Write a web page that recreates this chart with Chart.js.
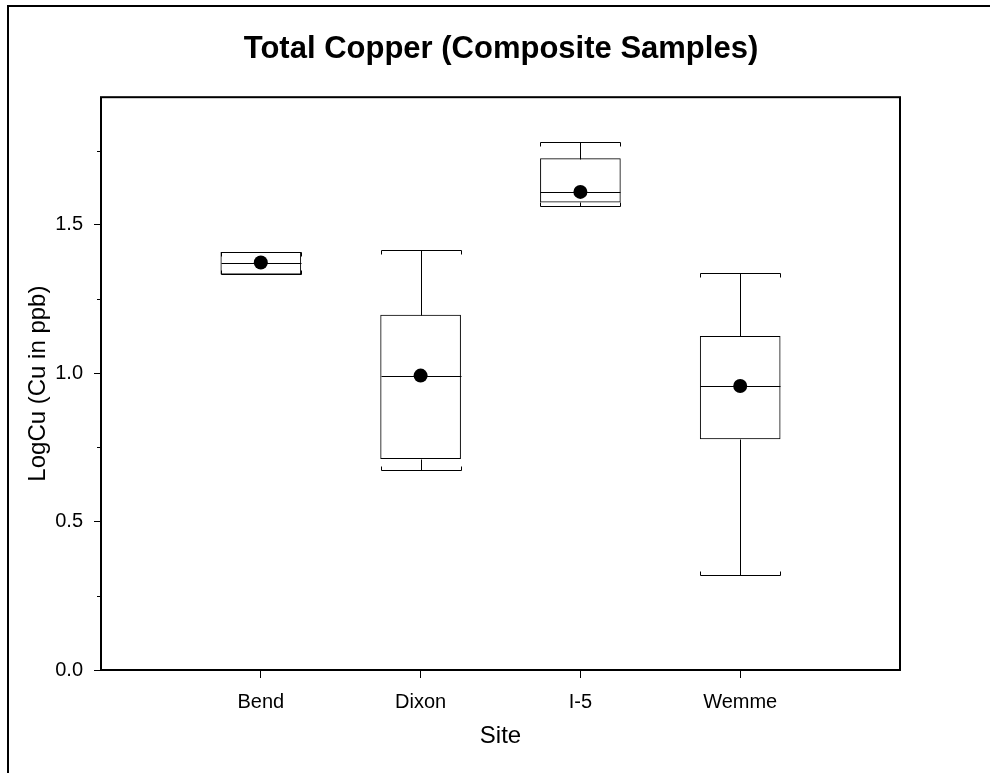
<!DOCTYPE html>
<html lang="en">
<head>
  <meta charset="UTF-8">
  <title>Total Copper (Composite Samples)</title>
  <style>
    body { margin: 0; background: #fff; overflow: hidden; }
    #wrap { position: relative; width: 990px; height: 773px; }
    /* page frame: open on the right and bottom, like the source picture */
    #frame {
      position: absolute; left: 7px; top: 5px; right: -10px; bottom: -10px;
      border-left: 2px solid #000; border-top: 2px solid #000;
      pointer-events: none;
    }
  </style>
  <script src="https://cdn.jsdelivr.net/npm/chart.js@4.4.1/dist/chart.umd.min.js"></script>
</head>
<body>
  <div id="wrap">
    <canvas id="chart" width="990" height="773"></canvas>
    <div id="frame"></div>
  </div>

  <script>
    // --- data ---
    const sites = ['Bend', 'Dixon', 'I-5', 'Wemme'];
    const whiskerLow  = [1.334, 0.675, 1.562, 0.319];
    const q1          = [1.334, 0.712, 1.576, 0.779];
    const median      = [1.371, 0.991, 1.610, 0.956];
    const q3          = [1.407, 1.196, 1.723, 1.124];
    const whiskerHigh = [1.407, 1.416, 1.780, 1.337];
    const means       = [1.373, 0.992, 1.611, 0.957];
    const yTicksMinor = [0.25, 0.75, 1.25, 1.75];

    const BOX_W = 80;

    // whiskers, caps, medians, minor ticks and the plot frame
    const boxPlugin = {
      id: 'boxWhiskers',
      beforeDatasetsDraw(chart) {
        const { ctx, chartArea: a, scales: { y } } = chart;
        ctx.save();
        ctx.strokeStyle = '#000';
        ctx.lineWidth = 2;
        ctx.strokeRect(a.left, a.top, a.right - a.left, a.bottom - a.top);
        ctx.lineWidth = 1;
        ctx.beginPath();
        yTicksMinor.forEach(v => {
          const py = Math.round(y.getPixelForValue(v)) + 0.5;
          ctx.moveTo(a.left - 4, py);
          ctx.lineTo(a.left, py);
        });
        ctx.stroke();
        ctx.restore();
      },
      afterDatasetDraw(chart, args) {
        if (args.index !== 1) return; // after the boxes, before the mean dots
        const { ctx, scales: { x, y } } = chart;
        const half = BOX_W / 2;
        const py = v => Math.round(y.getPixelForValue(v)) + 0.5;
        ctx.save();
        ctx.strokeStyle = '#000';
        ctx.lineWidth = 1;
        sites.forEach((s, i) => {
          const cx = Math.round(x.getPixelForValue(i + 1)) + 0.5;
          const l = cx - half, r = cx + half;
          const hi = py(whiskerHigh[i]), lo = py(whiskerLow[i]);
          ctx.beginPath();
          ctx.moveTo(l, py(median[i])); ctx.lineTo(r, py(median[i]));
          ctx.moveTo(cx, py(q3[i])); ctx.lineTo(cx, hi);
          ctx.moveTo(l, hi + 4); ctx.lineTo(l, hi); ctx.lineTo(r, hi); ctx.lineTo(r, hi + 4);
          ctx.moveTo(cx, py(q1[i])); ctx.lineTo(cx, lo);
          ctx.moveTo(l, lo - 4); ctx.lineTo(l, lo); ctx.lineTo(r, lo); ctx.lineTo(r, lo - 4);
          ctx.stroke();
        });
        ctx.restore();
      }
    };

    Chart.defaults.font.family = '"Liberation Sans", Arial, sans-serif';
    Chart.defaults.color = '#000';

    new Chart(document.getElementById('chart'), {
      type: 'bar',
      data: {
        datasets: [
          {
            type: 'scatter',
            label: 'Mean',
            data: means.map((m, i) => ({ x: i + 1, y: m })),
            pointRadius: 7,
            pointBackgroundColor: '#000',
            pointBorderWidth: 0
          },
          {
            type: 'bar',
            label: 'IQR',
            data: sites.map((s, i) => ({ x: i + 1, y: [q1[i], q3[i]] })),
            backgroundColor: '#fff',
            borderColor: '#000',
            borderWidth: 1,
            borderSkipped: false,
            barThickness: BOX_W
          }
        ]
      },
      options: {
        responsive: false,
        animation: false,
        layout: { padding: { left: 12, right: 0, top: 0, bottom: 0 } },
        plugins: {
          legend: { display: false },
          tooltip: { enabled: false },
          title: {
            display: true,
            text: 'Total Copper (Composite Samples)',
            font: { size: 31, weight: 'bold' },
            color: '#000',
            padding: { top: 31, bottom: 29 }
          }
        },
        scales: {
          x: {
            type: 'linear',
            min: 0,
            max: 5,
            offset: false,
            afterBuildTicks: s => { s.ticks = sites.map((_, i) => ({ value: i + 1 })); },
            afterFit: s => { s.height = 103; },
            border: { display: false },
            grid: { offset: false, drawOnChartArea: false, drawTicks: true, tickLength: 8, tickColor: '#000' },
            ticks: {
              callback: v => sites[v - 1],
              autoSkip: false,
              maxRotation: 0,
              padding: 12,
              font: { size: 20 }
            },
            title: { display: true, text: 'Site', font: { size: 24 }, padding: { top: 0, bottom: 22 } }
          },
          y: {
            min: 0,
            max: 1.93,
            afterFit: s => { s.width = 89; },
            border: { display: false },
            grid: { drawOnChartArea: false, drawTicks: true, tickLength: 7, tickColor: '#000' },
            ticks: {
              stepSize: 0.5,
              includeBounds: false,
              callback: v => v.toFixed(1),
              padding: 11,
              font: { size: 20 }
            },
            title: { display: true, text: 'LogCu (Cu in ppb)', font: { size: 24 }, padding: { top: 12, bottom: 0 } }
          },
          yPad: {
            position: 'right',
            afterFit: s => { s.width = 90; },
            border: { display: false },
            grid: { display: false },
            ticks: { display: false }
          }
        }
      },
      plugins: [boxPlugin]
    });
  </script>
</body>
</html>
